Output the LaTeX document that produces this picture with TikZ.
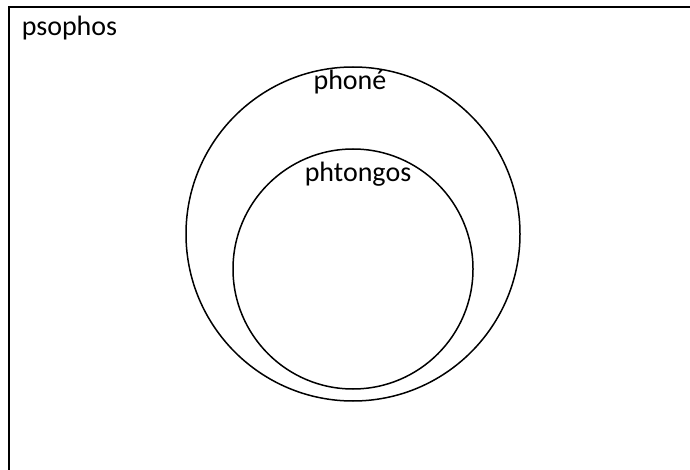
\documentclass[tikz,border=0pt]{standalone}
\usepackage{fontspec}
\setmainfont{Carlito}
\begin{document}
\begin{tikzpicture}[x=1pt,y=-1pt,line width=1.5pt,font=\fontsize{28}{32}\selectfont]
				\useasboundingbox (0,0) rectangle (690,470);
				\draw (9,470)--(9,7)--(690,7);
				\draw (353,234) circle (167);
				\draw (353,269) circle (120);
				\node[anchor=base west,inner sep=0] (psophos) at (21,36) {psophos};
				\node[anchor=base,inner sep=0] (phone) at (350,90) {phoné};
				\node[anchor=base,inner sep=0] (phtongos) at (358,182) {phtongos};
			\end{tikzpicture}
\end{document}
